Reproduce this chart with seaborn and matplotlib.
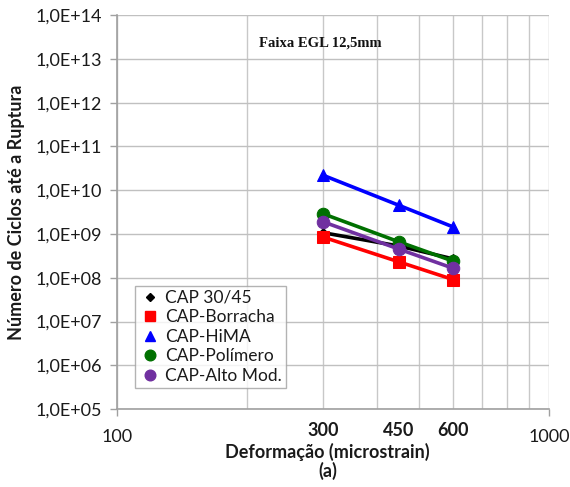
import matplotlib
matplotlib.use("Agg")
import matplotlib.pyplot as plt
from matplotlib.lines import Line2D
from matplotlib.ticker import FixedLocator, NullFormatter, FuncFormatter
import matplotlib.transforms as mtransforms
import numpy as np
import pandas as pd
import seaborn as sns

# Strain levels (microstrain) and fatigue life per binder
strain = [300, 450, 600]
cap_30_45 = [1.07e9, 5.3e8, 2.7e8]
cap_borracha = [8.5e8, 2.3e8, 9.1e7]
cap_hima = [2.2e10, 4.5e9, 1.45e9]
cap_polimero = [2.9e9, 6.6e8, 2.4e8]
cap_alto_mod = [1.9e9, 4.5e8, 1.65e8]

series_names = ["CAP 30/45", "CAP-Borracha", "CAP-HiMA", "CAP-Polímero", "CAP-Alto Mod."]
series_values = [cap_30_45, cap_borracha, cap_hima, cap_polimero, cap_alto_mod]
series_colors = ["#000000", "#ff0000", "#0000ff", "#007000", "#7030a0"]
series_markers = ["D", "s", "^", "o", "o"]
series_msize = [5, 8, 9, 9, 9]

y_ticks = [1e5, 1e6, 1e7, 1e8, 1e9, 1e10, 1e11, 1e12, 1e13, 1e14]
x_bold_labels = [300, 450, 600]

sns.set_theme(style="white")
plt.rcParams["font.family"] = ["Lato", "DejaVu Sans"]

df = pd.DataFrame(
    [(name, x, v) for name, vals in zip(series_names, series_values) for x, v in zip(strain, vals)],
    columns=["serie", "strain", "ciclos"],
)

fig = plt.figure(figsize=(5.70, 4.87), dpi=100)
ax = fig.add_axes([0.205, 0.160, 0.758, 0.809])
ax.set_xscale("log")
ax.set_yscale("log")

for name, col, mk, ms in zip(series_names, series_colors, series_markers, series_msize):
    sub = df[df["serie"] == name]
    sns.lineplot(data=sub, x="strain", y="ciclos", ax=ax, color=col, marker=mk,
                 markersize=ms, markeredgecolor=col, linewidth=2.6, legend=False,
                 zorder=3)

ax.set_xlim(100, 1000)
ax.set_ylim(1e5, 1e14)

# x axis: decade labels plus bold labels at the tested strains
ax.xaxis.set_major_locator(FixedLocator([100, 1000]))
ax.xaxis.set_major_formatter(FuncFormatter(lambda v, p: f"{int(v)}"))
ax.xaxis.set_minor_locator(FixedLocator(np.arange(200, 1000, 100)))
ax.xaxis.set_minor_formatter(NullFormatter())
ax.yaxis.set_major_locator(FixedLocator(y_ticks))
ax.yaxis.set_minor_locator(FixedLocator([]))
ax.yaxis.set_major_formatter(FuncFormatter(lambda v, p: f"1,0E+{int(round(np.log10(v))):02d}"))

ax.grid(True, which="major", axis="both", color="#c0c0c0", linewidth=1.0)
ax.grid(True, which="minor", axis="x", color="#c8c8c8", linewidth=1.0)
ax.set_axisbelow(True)

for side in ["top", "right"]:
    ax.spines[side].set_visible(False)
for side in ["left", "bottom"]:
    ax.spines[side].set_color("#a0a0a0")
    ax.spines[side].set_linewidth(1.2)

ax.tick_params(axis="both", which="major", direction="out", length=5, width=1,
               color="#a0a0a0", labelsize=13, labelcolor="#1a1a1a", pad=6,
               left=True, bottom=True)
ax.tick_params(axis="x", which="minor", length=0)
ax.tick_params(axis="x", which="major", pad=9)

trans = mtransforms.blended_transform_factory(ax.transData, ax.transAxes)
for xv in x_bold_labels:
    ax.text(xv, -0.033, str(xv), transform=trans, ha="center", va="top",
            fontsize=13, fontweight="bold", color="#1a1a1a")

ax.set_xlabel("Deformação (microstrain)", fontsize=13, fontweight="bold",
              color="#1a1a1a", labelpad=0)
ax.xaxis.set_label_coords(0.486, -0.085, transform=ax.transAxes)
ax.xaxis.label.set_va("top")
ax.set_ylabel("Número de Ciclos até a Ruptura", fontsize=13, fontweight="bold",
              color="#1a1a1a")
ax.yaxis.set_label_coords(-0.212, 0.5, transform=ax.transAxes)
fig.text(0.575, 0.015, "(a)", ha="center", va="bottom", fontsize=13,
         fontweight="bold", color="#1a1a1a")

ax.text(0.472, 0.93, "Faixa EGL 12,5mm", transform=ax.transAxes, ha="center",
        va="center", fontsize=10.5, fontweight="bold",
        family=["Liberation Serif", "DejaVu Serif"], color="#111111")

handles = [Line2D([], [], linestyle="none", marker=mk, color=col, markeredgecolor=col,
                  markersize=ms * 0.85)
           for col, mk, ms in zip(series_colors, series_markers, series_msize)]
leg = ax.legend(handles, series_names, loc="lower left", bbox_to_anchor=(0.042, 0.053),
                frameon=True, fancybox=False, fontsize=12.5, handletextpad=0.3,
                handlelength=1.2, borderpad=0.25, labelspacing=0.2,
                borderaxespad=0)
leg.get_frame().set_edgecolor("#a0a0a0")
leg.get_frame().set_linewidth(1.0)
for t in leg.get_texts():
    t.set_color("#1a1a1a")

fig.savefig("out.png", dpi=100, facecolor="white")
